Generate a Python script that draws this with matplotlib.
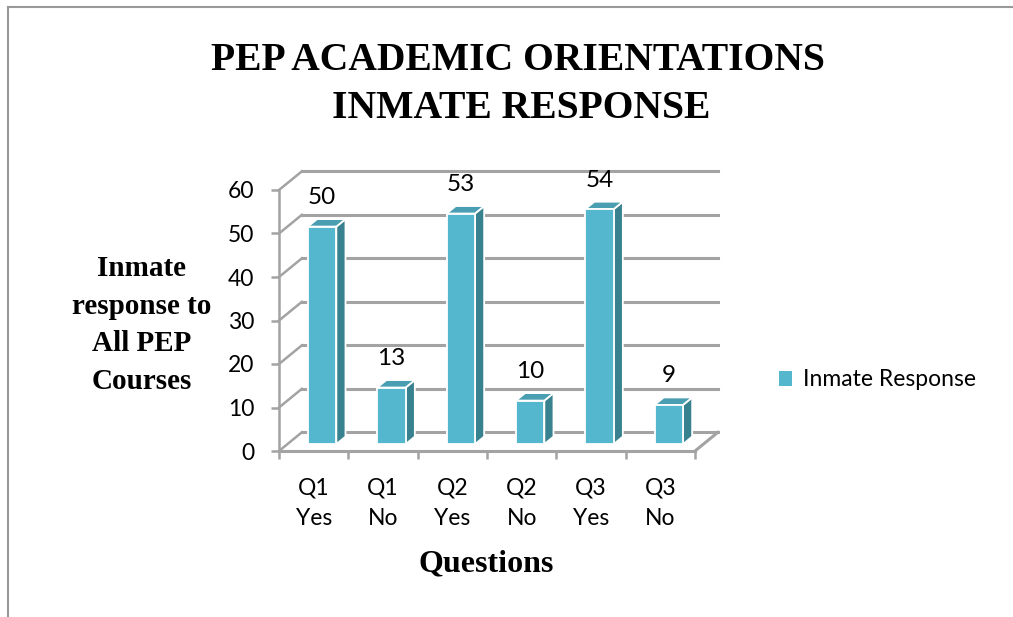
import matplotlib
matplotlib.use("Agg")
import matplotlib.pyplot as plt
from matplotlib.patches import Polygon, Patch
from matplotlib.lines import Line2D

# data
categories = ["Q1\nYes", "Q1\nNo", "Q2\nYes", "Q2\nNo", "Q3\nYes", "Q3\nNo"]
responses = [50, 13, 53, 10, 54, 9]
yticks = [0, 10, 20, 30, 40, 50, 60]

FRONT = "#55B7CD"
SIDE = "#38818F"
TOP = "#4A9EB1"
GRID = "#A3A3A3"

# fake 3d depth (in data units)
DX, DY = 0.33, 4.3
BAR_W = 0.41
F0 = 0.37      # depth where bar front face sits
BD = 0.40      # bar depth as fraction of full depth

W, H = 1013, 617
fig = plt.figure(figsize=(W / 100, H / 100), dpi=100)
ax = fig.add_axes([279 / W, (H - 451) / H, 416 / W, 261 / H])
ax.set_xlim(-0.5, len(categories) - 0.5)
ax.set_ylim(0, 60)
for s in ax.spines.values():
    s.set_visible(False)
ax.set_facecolor("none")

x0, x1 = -0.5, len(categories) - 0.5

# back wall gridlines + left wall diagonals
for v in yticks:
    ax.plot([x0 + DX, x1 + DX], [v + DY, v + DY], color=GRID, lw=2.2, clip_on=False, zorder=1)
    ax.plot([x0, x0 + DX], [v, v + DY], color=GRID, lw=1.8, clip_on=False, zorder=1)
# front axis, floor edges
ax.plot([x0, x0], [0, 60], color=GRID, lw=1.8, clip_on=False, zorder=1)
ax.plot([x0, x1], [0, 0], color=GRID, lw=2.2, clip_on=False, zorder=1)
ax.plot([x1, x1 + DX], [0, DY], color=GRID, lw=2.2, clip_on=False, zorder=1)

# bars
xs = list(range(len(categories)))
bx = [x - BAR_W / 2 + F0 * DX for x in xs]
by = F0 * DY
ax.bar(bx, responses, width=BAR_W, bottom=by, align="edge", color=FRONT,
       edgecolor="white", linewidth=1.3, zorder=3, clip_on=False)
for xl, v in zip(bx, responses):
    xr = xl + BAR_W
    side = [(xr, by), (xr + BD * DX, by + BD * DY), (xr + BD * DX, by + v + BD * DY), (xr, by + v)]
    top = [(xl, by + v), (xr, by + v), (xr + BD * DX, by + v + BD * DY), (xl + BD * DX, by + v + BD * DY)]
    ax.add_patch(Polygon(side, closed=True, facecolor=SIDE, edgecolor="white", lw=1.3, zorder=2.5, clip_on=False))
    ax.add_patch(Polygon(top, closed=True, facecolor=TOP, edgecolor="white", lw=1.3, zorder=2.5, clip_on=False))
    ax.annotate(str(v), (xl + BAR_W / 2, by + v), xytext=(0, 21), textcoords="offset points",
                ha="center", va="center", fontsize=17.5, family="Lato", color="black")

# ticks
ax.set_xticks(xs)
ax.set_xticklabels(categories, fontsize=16.5, family="Lato", linespacing=1.55)
ax.set_xticks([x - 0.5 for x in xs] + [x1], minor=True)
ax.tick_params(axis="x", which="major", length=0, pad=19)
ax.tick_params(axis="x", which="minor", length=6, width=1.8, color=GRID)
ax.set_yticks(yticks)
ax.set_yticklabels([str(v) for v in yticks], fontsize=16.5, family="Lato")
ax.tick_params(axis="y", length=6, width=1.8, color=GRID, pad=12)

# titles
fig.text(518 / W, 1 - 61 / H, "PEP ACADEMIC ORIENTATIONS", ha="center", va="center",
         fontsize=28.5, fontweight="bold", family="Liberation Serif")
fig.text(521 / W, 1 - 108 / H, "INMATE RESPONSE", ha="center", va="center",
         fontsize=28.5, fontweight="bold", family="Liberation Serif")
fig.text(142 / W, 1 - 325 / H, "Inmate\nresponse to\nAll PEP\nCourses", ha="center", va="center",
         fontsize=21, fontweight="bold", family="Liberation Serif", linespacing=1.5)
fig.text(486 / W, 1 - 564 / H, "Questions", ha="center", va="center",
         fontsize=23, fontweight="bold", family="Liberation Serif")

# legend
handle = Patch(facecolor=FRONT, edgecolor="none")
fig.legend([handle], ["Inmate Response"], loc="center left", bbox_to_anchor=(758 / W, 1 - 380 / H),
           frameon=False, handlelength=0.6, handleheight=0.6, handletextpad=0.45,
           prop={"family": "Lato", "size": 16.5})

# outer frame
fig.add_artist(Line2D([8 / W, 8 / W], [0, 1 - 7 / H], color="#999999", lw=1.5))
fig.add_artist(Line2D([8 / W, 1], [1 - 7 / H, 1 - 7 / H], color="#999999", lw=1.5))

fig.savefig("out.png", dpi=100)
